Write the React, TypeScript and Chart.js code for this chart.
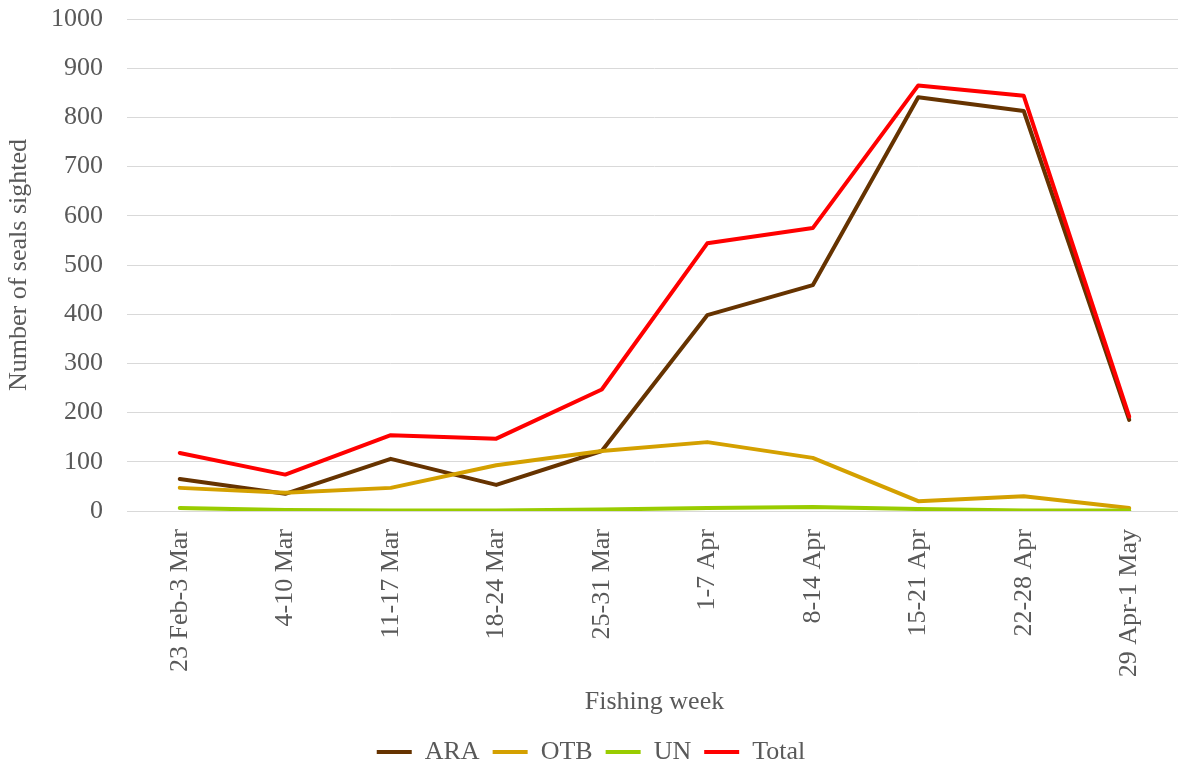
import React, { useEffect, useRef } from "react";
import { Chart, registerables } from "chart.js";

Chart.register(...registerables);

const weeks = [
  "23 Feb-3 Mar",
  "4-10 Mar",
  "11-17 Mar",
  "18-24 Mar",
  "25-31 Mar",
  "1-7 Apr",
  "8-14 Apr",
  "15-21 Apr",
  "22-28 Apr",
  "29 Apr-1 May",
];

const ara = [65, 35, 106, 53, 122, 398, 459, 841, 813, 185];
const otb = [47, 37, 47, 93, 122, 140, 108, 20, 30, 6];
const un = [6, 2, 1, 1, 3, 6, 8, 4, 1, 1];
const total = [118, 74, 154, 147, 247, 544, 575, 865, 844, 192];

const FONT = "'Liberation Serif', 'Times New Roman', serif";
const TEXT = "#595959";
const GRID = "#d9d9d9";
const FS = 26;

export default function App() {
  const ref = useRef<HTMLCanvasElement | null>(null);

  useEffect(() => {
    if (!ref.current) return;
    const mk = (label: string, data: number[], color: string, order: number) => ({
      label,
      data,
      borderColor: color,
      backgroundColor: color,
      borderWidth: 4,
      pointRadius: 0,
      pointHoverRadius: 0,
      tension: 0,
      borderCapStyle: "round" as const,
      borderJoinStyle: "round" as const,
      order,
    });
    const chart = new Chart(ref.current, {
      type: "line",
      data: {
        labels: weeks,
        datasets: [
          mk("ARA", ara, "#663300", 4),
          mk("OTB", otb, "#D4A000", 3),
          mk("UN", un, "#99CC00", 2),
          mk("Total", total, "#FF0000", 1),
        ],
      },
      options: {
        animation: false,
        responsive: false,
        maintainAspectRatio: false,
        layout: { padding: { left: 0, right: 0, top: 19, bottom: -6 } },
        plugins: {
          tooltip: { enabled: false },
          legend: {
            position: "bottom",
            labels: {
              font: { family: FONT, size: FS },
              color: TEXT,
              usePointStyle: true,
              pointStyle: "line",
              pointStyleWidth: 35,
              boxHeight: FS,
              padding: 13,
              sort: (a: any, b: any) => a.datasetIndex - b.datasetIndex,
            },
          },
        },
        scales: {
          x: {
            offset: true,
            grid: { display: false, drawTicks: false },
            border: { display: true, color: GRID, width: 1 },
            ticks: {
              minRotation: 90,
              maxRotation: 90,
              autoSkip: false,
              padding: 18,
              font: { family: FONT, size: FS },
              color: TEXT,
            },
            title: {
              display: true,
              text: "Fishing week",
              font: { family: FONT, size: FS },
              color: TEXT,
              padding: { top: 0, bottom: 8 },
            },
            afterFit: (s: any) => {
              s.height = 215;
              s.paddingLeft = 0;
              s.paddingRight = 0;
            },
          },
          y: {
            min: 0,
            max: 1000,
            grid: { color: GRID, lineWidth: 1, drawTicks: false },
            border: { display: false },
            ticks: {
              stepSize: 100,
              padding: 24,
              font: { family: FONT, size: FS },
              color: TEXT,
              callback: (v: any) => String(v),
            },
            title: {
              display: true,
              text: "Number of seals sighted",
              font: { family: FONT, size: FS },
              color: TEXT,
              padding: { top: 4, bottom: 0 },
            },
            afterFit: (s: any) => {
              s.width = 127;
              s.paddingTop = 0;
              s.paddingBottom = 0;
            },
          },
        },
      },
    });
    return () => chart.destroy();
  }, []);

  return (
    <div style={{ position: "absolute", left: 0, top: 0, width: 1178, height: 769, overflow: "hidden", background: "#fff" }}>
      <canvas ref={ref} width={1182} height={769} style={{ width: 1182, height: 769, display: "block" }} />
    </div>
  );
}
